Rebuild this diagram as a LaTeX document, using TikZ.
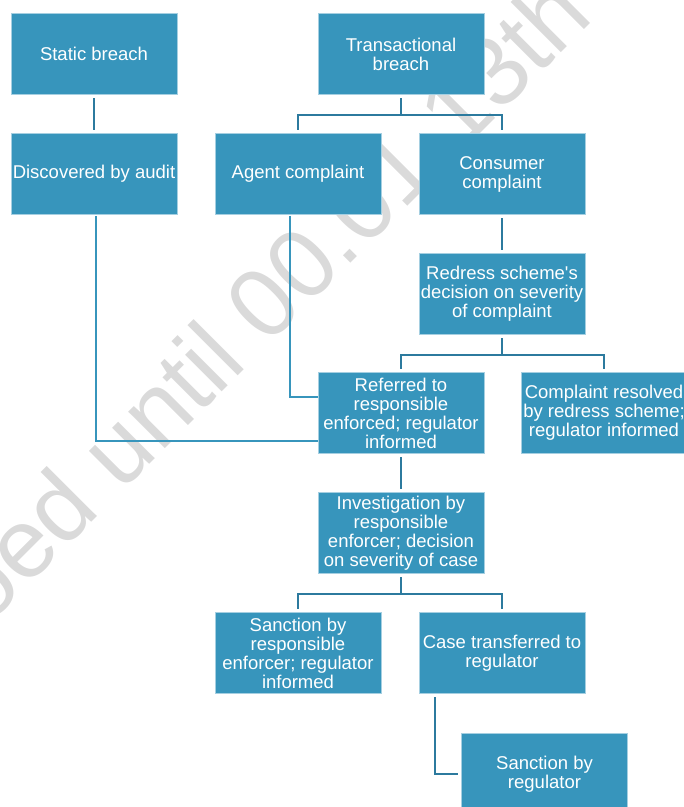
\documentclass[tikz,border=0pt]{standalone}
\usepackage{fontspec}
\setmainfont{Liberation Sans}[Ligatures=TeXOff]
\usetikzlibrary{calc}
\definecolor{boxblue}{HTML}{3795BC}
\definecolor{linedark}{HTML}{2C7A9E}
\definecolor{wmgray}{HTML}{DADADA}
\tikzset{
  box/.style={rectangle, fill=boxblue, draw=white!55!boxblue, line width=0.6pt,
    minimum width=166pt, minimum height=81pt, inner sep=0pt, align=center,
    text=white, font=\fontsize{18.5}{19}\selectfont},
  conn/.style={draw=linedark, line width=2.6pt, shorten <=3.5pt, shorten >=3pt},
  connthin/.style={draw=boxblue, line width=2.2pt, shorten <=1pt},
  wm/.style={text=wmgray, font=\fontsize{98}{98}\selectfont, inner sep=0pt}
}
\begin{document}
\begin{tikzpicture}[x=1pt, y=-1pt]
\useasboundingbox (0,0) rectangle (684,807);
% watermark
\node[wm, rotate=45, anchor=base west] (wmark) at (-256,870) {Embargoed until 00.01 13th};
% boxes
\node[box] (sb) at (94,54) {Static breach};
\node[box] (tb) at (401,54) {Transactional\\breach};
\node[box] (da) at (94,174) {Discovered by audit};
\node[box] (ac) at (298,174) {Agent complaint};
\node[box] (cc) at (502,174) {Consumer\\complaint};
\node[box] (rs) at (502,294) {Redress scheme's\\decision on severity\\of complaint};
\node[box] (rf) at (401,413) {Referred to\\responsible\\enforced; regulator\\informed};
\node[box] (cr) at (604,413) {Complaint resolved\\by redress scheme;\\regulator informed};
\node[box] (iv) at (401,533) {Investigation by\\responsible\\enforcer; decision\\on severity of case};
\node[box] (sr) at (298,653) {Sanction by\\responsible\\enforcer; regulator\\informed};
\node[box] (ct) at (502,653) {Case transferred to\\regulator};
\node[box] (sg) at (544.5,774) {Sanction by\\regulator};
% connectors
\draw[conn] (sb.south) -- (da.north);
\draw[conn] (tb.south) -- ++(0,20) -| (ac.north);
\draw[conn] (tb.south) -- ++(0,20) -| (cc.north);
\draw[connthin] ($(da.south)+(2,0)$) |- ($(rf.west)+(0,28)$);
\draw[connthin] ($(ac.south)+(-8,0)$) |- ($(rf.west)+(0,-16)$);
\draw[conn] (cc.south) -- (rs.north);
\draw[conn] (rs.south) -- ++(0,20) -| (rf.north);
\draw[conn] (rs.south) -- ++(0,20) -| (cr.north);
\draw[conn] (rf.south) -- (iv.north);
\draw[conn] (iv.south) -- ++(0,20) -| (sr.north);
\draw[conn] (iv.south) -- ++(0,20) -| (ct.north);
\draw[conn] ($(ct.south)+(-67,0)$) |- (sg.west);
\end{tikzpicture}
\end{document}
